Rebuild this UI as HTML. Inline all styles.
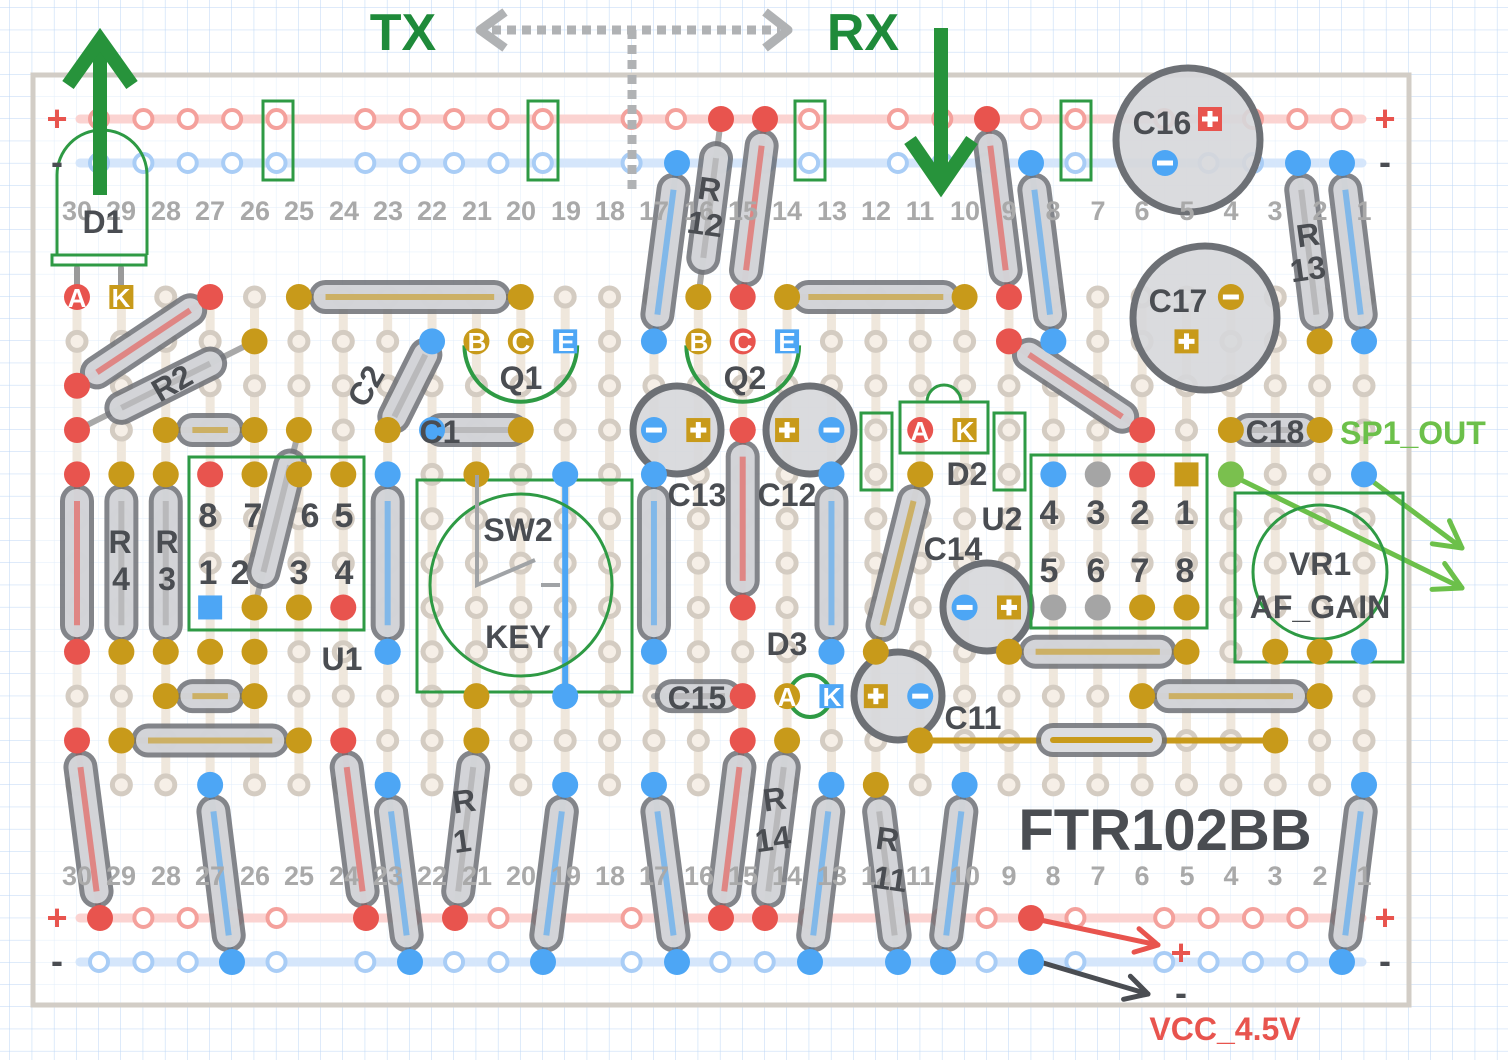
<!DOCTYPE html>
<html><head><meta charset="utf-8"><style>
html,body{margin:0;padding:0;background:#fff;width:1508px;height:1060px;overflow:hidden}
svg{display:block}
text{font-family:"Liberation Sans",sans-serif;font-weight:bold}
.num{fill:#a9a9a9;font-size:27px;text-anchor:middle}
.lab{fill:#4a4d52;font-size:32px;text-anchor:middle}
.pin{fill:#4a4d52;font-size:34px;text-anchor:middle}
.w{fill:#fff;font-size:26px;text-anchor:middle}
</style></head><body>
<svg id="s" width="1508" height="1060" viewBox="0 0 1508 1060" xmlns="http://www.w3.org/2000/svg">
<defs>
<pattern id="g" width="22.2" height="22.2" patternUnits="userSpaceOnUse" x="10" y="8">
<path d="M22.2 0V22.2M0 22.2H22.2" stroke="#bcd6f5" stroke-width="1" fill="none"/>
</pattern>
</defs>
<rect width="1508" height="1060" fill="url(#g)"/>
<rect x="33" y="75" width="1376" height="930" fill="#ffffff" fill-opacity="0.55" stroke="#d2cdc6" stroke-width="5"/>
<g id="base"></g>
<g id="comp"></g>
<g id="txt">
<text class="num" x="77" y="220">30</text><text class="num" x="121" y="220">29</text><text class="num" x="166" y="220">28</text><text class="num" x="210" y="220">27</text><text class="num" x="255" y="220">26</text><text class="num" x="299" y="220">25</text><text class="num" x="344" y="220">24</text><text class="num" x="388" y="220">23</text><text class="num" x="432" y="220">22</text><text class="num" x="477" y="220">21</text><text class="num" x="521" y="220">20</text><text class="num" x="566" y="220">19</text><text class="num" x="610" y="220">18</text><text class="num" x="654" y="220">17</text><text class="num" x="699" y="220">16</text><text class="num" x="743" y="220">15</text><text class="num" x="787" y="220">14</text><text class="num" x="832" y="220">13</text><text class="num" x="876" y="220">12</text><text class="num" x="920" y="220">11</text><text class="num" x="965" y="220">10</text><text class="num" x="1009" y="220">9</text><text class="num" x="1053" y="220">8</text><text class="num" x="1098" y="220">7</text><text class="num" x="1142" y="220">6</text><text class="num" x="1187" y="220">5</text><text class="num" x="1231" y="220">4</text><text class="num" x="1275" y="220">3</text><text class="num" x="1320" y="220">2</text><text class="num" x="1364" y="220">1</text>
<text class="num" x="77" y="885">30</text><text class="num" x="121" y="885">29</text><text class="num" x="166" y="885">28</text><text class="num" x="210" y="885">27</text><text class="num" x="255" y="885">26</text><text class="num" x="299" y="885">25</text><text class="num" x="344" y="885">24</text><text class="num" x="388" y="885">23</text><text class="num" x="432" y="885">22</text><text class="num" x="477" y="885">21</text><text class="num" x="521" y="885">20</text><text class="num" x="566" y="885">19</text><text class="num" x="610" y="885">18</text><text class="num" x="654" y="885">17</text><text class="num" x="699" y="885">16</text><text class="num" x="743" y="885">15</text><text class="num" x="787" y="885">14</text><text class="num" x="832" y="885">13</text><text class="num" x="876" y="885">12</text><text class="num" x="920" y="885">11</text><text class="num" x="965" y="885">10</text><text class="num" x="1009" y="885">9</text><text class="num" x="1053" y="885">8</text><text class="num" x="1098" y="885">7</text><text class="num" x="1142" y="885">6</text><text class="num" x="1187" y="885">5</text><text class="num" x="1231" y="885">4</text><text class="num" x="1275" y="885">3</text><text class="num" x="1320" y="885">2</text><text class="num" x="1364" y="885">1</text>
</g>
<g id="top"></g>
<g id="txt2">
<text x="57" y="131" fill="#e8544e" font-size="36" text-anchor="middle">+</text>
<text x="1385" y="131" fill="#e8544e" font-size="36" text-anchor="middle">+</text>
<text x="57" y="174" fill="#4a4d52" font-size="36" text-anchor="middle">-</text>
<text x="1385" y="174" fill="#4a4d52" font-size="36" text-anchor="middle">-</text>
<text x="57" y="930" fill="#e8544e" font-size="36" text-anchor="middle">+</text>
<text x="1385" y="930" fill="#e8544e" font-size="36" text-anchor="middle">+</text>
<text x="57" y="973" fill="#4a4d52" font-size="36" text-anchor="middle">-</text>
<text x="1385" y="973" fill="#4a4d52" font-size="36" text-anchor="middle">-</text>

<text x="403" y="50" fill="#1f8a3a" font-size="52" text-anchor="middle">TX</text>
<text x="863" y="50" fill="#1f8a3a" font-size="52" text-anchor="middle">RX</text>
<text class="lab" x="103" y="233">D1</text>

<text class="w" x="77" y="307">A</text><text class="w" x="121" y="307">K</text>
<text class="lab" transform="translate(172,383) rotate(-30)" y="11">R2</text>
<text class="lab" transform="translate(366,386) rotate(-60)" y="11">C2</text>
<text class="lab" x="440" y="443">C1</text>
<text class="w" x="477" y="351">B</text><text class="w" x="521" y="351">C</text><text class="w" x="566" y="351">E</text>
<text class="lab" x="521" y="389">Q1</text>
<text class="w" x="699" y="351">B</text><text class="w" x="743" y="351">C</text><text class="w" x="787" y="351">E</text>
<text class="lab" x="745" y="389">Q2</text>
<text class="lab" transform="translate(708,200) rotate(8)" y="0" font-size="28">R</text>
<text class="lab" transform="translate(705,225) rotate(8)" y="10" font-size="28">12</text>
<text class="lab" transform="translate(1308,236) rotate(-8)" y="10" font-size="28">R</text>
<text class="lab" transform="translate(1308,270) rotate(-8)" y="10" font-size="28">13</text>
<text class="lab" x="1162" y="134">C16</text>
<text class="lab" x="1178" y="312">C17</text>
<text class="lab" x="1275" y="443">C18</text>
<text x="1340" y="444" fill="#6cc04a" font-size="32">SP1_OUT</text>
<text class="w" x="920" y="440">A</text><text class="w" x="965" y="440">K</text>
<text class="lab" x="967" y="485">D2</text>
<text class="lab" x="1002" y="530">U2</text>
<text class="lab" x="953" y="560">C14</text>
<text class="lab" x="697" y="506">C13</text>
<text class="lab" x="787" y="506">C12</text>
<text class="lab" x="787" y="655">D3</text>
<text class="lab" x="697" y="709">C15</text>
<text class="w" x="787" y="706">A</text><text class="w" x="832" y="706">K</text>
<text class="lab" x="973" y="729">C11</text>
<text class="pin" x="1049" y="524">4</text><text class="pin" x="1096" y="524" fill="#a9a9a9">3</text><text class="pin" x="1140" y="524">2</text><text class="pin" x="1185" y="524">1</text>
<text class="pin" x="1049" y="582" fill="#a9a9a9">5</text><text class="pin" x="1096" y="582" fill="#a9a9a9">6</text><text class="pin" x="1140" y="582">7</text><text class="pin" x="1185" y="582">8</text>
<text class="pin" x="208" y="527">8</text><text class="pin" x="253" y="527">7</text><text class="pin" x="310" y="527">6</text><text class="pin" x="344" y="527">5</text>
<text class="pin" x="208" y="584">1</text><text class="pin" x="240" y="584">2</text><text class="pin" x="299" y="584">3</text><text class="pin" x="344" y="584">4</text>
<text class="lab" x="342" y="670">U1</text>
<text class="lab" x="120" y="553" font-size="30">R</text><text class="lab" x="121" y="590" font-size="30">4</text>
<text class="lab" x="167" y="553" font-size="30">R</text><text class="lab" x="167" y="590" font-size="30">3</text>
<text class="lab" x="518" y="541">SW2</text>
<text class="lab" x="518" y="648">KEY</text>
<text class="lab" x="1320" y="575">VR1</text>
<text class="lab" x="1320" y="618">AF_GAIN</text>
<text class="lab" transform="translate(466,815) rotate(-8)" y="-3" font-size="30">R</text>
<text class="lab" transform="translate(462,840) rotate(-8)" y="12" font-size="30">1</text>
<text class="lab" transform="translate(776,810) rotate(-8)" y="0" font-size="28">R</text>
<text class="lab" transform="translate(773,840) rotate(-8)" y="10" font-size="28">14</text>
<text class="lab" transform="translate(886,850) rotate(8)" y="0" font-size="28">R</text>
<text class="lab" transform="translate(890,880) rotate(8)" y="10" font-size="28">11</text>
<text x="1165" y="850" fill="#4a4d52" font-size="58" text-anchor="middle">FTR102BB</text>
<text x="1181" y="965" fill="#e8544e" font-size="36" text-anchor="middle">+</text>
<text x="1181" y="1005" fill="#4a4d52" font-size="36" text-anchor="middle">-</text>
<text x="1225" y="1040" fill="#e8544e" font-size="32" text-anchor="middle">VCC_4.5V</text>
</g>
</svg>
<script>
var NS="http://www.w3.org/2000/svg";
var base=document.getElementById('base'),comp=document.getElementById('comp'),top_=document.getElementById('top');
function el(p,t,a){var e=document.createElementNS(NS,t);for(var k in a)e.setAttribute(k,a[k]);p.appendChild(e);return e;}
var R='#e8544e',B='#4da6f5',G='#c89a1a',GR='#2e9a44',DK='#5b5e63',LG='#a8a8a8';
var X=[];for(var i=0;i<30;i++)X.push(77+i*44.38);
var Y=[];for(var j=0;j<12;j++)Y.push(297+j*44.35);
var RX=[];for(var g=0;g<5;g++)for(var k=0;k<5;k++)RX.push(99+g*266.3+k*44.38);
[[119,'#fbd3d1','#f4a19c'],[163,'#d5e6fb','#a9cdf6'],[918,'#fbd3d1','#f4a19c'],[962,'#d5e6fb','#a9cdf6']].forEach(function(r){
 el(base,'line',{x1:80,y1:r[0],x2:1362,y2:r[0],stroke:r[1],'stroke-width':9,'stroke-linecap':'round'});
 RX.forEach(function(x){el(base,'circle',{cx:x,cy:r[0],r:9,fill:'#fff',stroke:r[2],'stroke-width':4});});
});
X.forEach(function(x){el(base,'line',{x1:x,y1:Y[0],x2:x,y2:Y[11],stroke:'#efe7dc','stroke-width':9});});
X.forEach(function(x){Y.forEach(function(y){el(base,'circle',{cx:x,cy:y,r:9,fill:'#f6efe7',stroke:'#d4ccc2','stroke-width':5});});});
function dot(x,y,c,sq){ if(sq) el(top_,'rect',{x:x-12,y:y-12,width:24,height:24,fill:c}); else el(top_,'circle',{cx:x,cy:y,r:13,fill:c});}
function sign(x,y,plus){el(top_,'rect',{x:x-8,y:y-2.5,width:16,height:5,fill:'#fff'});if(plus)el(top_,'rect',{x:x-2.5,y:y-8,width:5,height:16,fill:'#fff'});}
function wire(x1,y1,x2,y2,c,w){el(comp,'line',{x1:x1,y1:y1,x2:x2,y2:y2,stroke:c,'stroke-width':w||6,'stroke-linecap':'round'});}
function res(x1,y1,x2,y2,c,c1,c2,shr){
 if(c1===undefined)c1=c; if(c2===undefined)c2=c; shr=shr||0.12;
 var dx=x2-x1,dy=y2-y1;
 var ax=x1+dx*shr,ay=y1+dy*shr,bx=x2-dx*shr,by=y2-dy*shr;
 wire(x1,y1,x2,y2,c||LG,6);
 el(comp,'line',{x1:ax,y1:ay,x2:bx,y2:by,stroke:'#6d7075','stroke-opacity':0.85,'stroke-width':34,'stroke-linecap':'round'});
 el(comp,'line',{x1:ax,y1:ay,x2:bx,y2:by,stroke:'#dcdde0','stroke-opacity':0.9,'stroke-width':24,'stroke-linecap':'round'});
 el(comp,'line',{x1:ax,y1:ay,x2:bx,y2:by,stroke:c||LG,'stroke-opacity':0.6,'stroke-width':6});
 if(c1)dot(x1,y1,c1); if(c2)dot(x2,y2,c2);
}
function cap(x,y,r){el(comp,'circle',{cx:x,cy:y,r:r,fill:'#d6d7da','fill-opacity':0.9,stroke:'#6d7075','stroke-width':7});}
function rect(x,y,w,h,c,sw){el(top_,'rect',{x:x,y:y,width:w,height:h,fill:'none',stroke:c||GR,'stroke-width':sw||3});}
// Left region
res(X[0],Y[2],X[3],Y[0],R,R,R,0.15);
res(X[0],Y[3],X[4],Y[1],LG,R,G,0.25);
res(X[5],Y[0],X[10],Y[0],G,G,G,0.12);
res(X[7],Y[3],X[8],Y[1],LG,G,B,0.15);
res(X[8],Y[3],X[10],Y[3],LG,B,G,0.1);
res(X[2],Y[3],X[4],Y[3],G,G,G,0.3);
dot(X[5],Y[3],G);
dot(X[0],Y[0],R);dot(X[1],Y[0],G,true);
res(X[4],Y[7],X[5],Y[3],LG,false,false,0.2);
res(X[0],Y[4],X[0],Y[8],R,R,R,0.15);
res(X[1],Y[4],X[1],Y[8],LG,G,G,0.15);
res(X[2],Y[4],X[2],Y[8],LG,G,G,0.15);
res(X[7],Y[4],X[7],Y[8],B,B,B,0.15);
res(X[2],Y[9],X[4],Y[9],G,G,G,0.3);
res(X[1],Y[10],X[5],Y[10],G,G,G,0.15);
// U1
dot(X[3],Y[4],R);dot(X[4],Y[4],G);dot(X[5],Y[4],G);dot(X[6],Y[4],G);
dot(X[3],Y[7],B,true);dot(X[4],Y[7],G);dot(X[5],Y[7],G);dot(X[6],Y[7],R);
dot(X[3],Y[8],G);dot(X[4],Y[8],G);dot(X[7],Y[8],B);
rect(189,457,175,173);
// Q1 Q2
[[X[9],X[10],X[11]],[X[14],X[15],X[16]]].forEach(function(q,i){
 el(top_,'path',{d:'M'+(q[0]-12)+' '+(Y[1]+4)+' A56 56 0 0 0 '+(q[2]+12)+' '+(Y[1]+4),fill:'none',stroke:GR,'stroke-width':4});
 dot(q[0],Y[1],G);dot(q[1],Y[1],i?R:G);dot(q[2],Y[1],B,true);
});
// SW2
rect(417,480,215,212);
el(top_,'circle',{cx:521,cy:585,r:91,fill:'none',stroke:GR,'stroke-width':3});
wire(X[11],Y[4],X[11],Y[9],B,6);dot(X[11],Y[4],B);dot(X[11],Y[9],B);
dot(X[9],Y[4],G);dot(X[9],Y[9],G);
el(top_,'path',{d:'M477 475V585L535 560M541 585H560',fill:'none',stroke:'#a0a3a6','stroke-width':4});
// center
res(X[13],Y[1],677,163,B,B,B,0.15);
res(X[14],Y[0],721,119,LG,G,R,0.22);
res(X[15],Y[0],765,119,R,R,R,0.15);
res(X[16],Y[0],X[20],Y[0],G,G,G,0.12);
res(X[13],Y[4],X[13],Y[8],B,B,B,0.15);
res(X[15],Y[3],X[15],Y[7],R,R,R,0.15);
res(X[17],Y[4],X[17],Y[8],B,B,B,0.15);
cap(677,430,44);cap(810,430,44);
dot(X[13],Y[3],B);sign(X[13],Y[3]);dot(X[14],Y[3],G,true);sign(X[14],Y[3],1);
dot(X[16],Y[3],G,true);sign(X[16],Y[3],1);dot(X[17],Y[3],B);sign(X[17],Y[3]);dot(X[15],Y[3],R);
res(X[13],Y[9],X[15],Y[9],LG,false,R,0.2);
el(top_,'circle',{cx:810,cy:696,r:21,fill:'none',stroke:GR,'stroke-width':4});
dot(X[16],Y[9],G);dot(X[17],Y[9],B,true);
cap(898,696,44);dot(X[18],Y[9],G,true);sign(X[18],Y[9],1);dot(X[19],Y[9],B);sign(X[19],Y[9]);
// D2
rect(900,402,88,51);rect(861,413,31,77);rect(994,413,31,77);
el(top_,'path',{d:'M927 402A17 17 0 0 1 961 402',fill:'none',stroke:GR,'stroke-width':3});
dot(X[19],Y[3],R);dot(X[20],Y[3],G,true);
res(X[19],Y[4],X[18],Y[8],G,G,G,0.15);
cap(987,607,44);dot(X[20],Y[7],B);sign(X[20],Y[7]);dot(X[21],Y[7],G,true);sign(X[21],Y[7],1);
// right top
res(X[21],Y[0],987,119,R,R,R,0.15);
res(X[22],Y[1],1031,163,B,B,B,0.15);
res(X[21],Y[1],X[24],Y[3],R,R,R,0.15);
cap(1188,140,72);dot(1210,119,R,true);sign(1210,119,1);dot(1165,163,B);sign(1165,163);
cap(1205,318,72);dot(X[26],Y[0],G);sign(X[26],Y[0]);dot(X[25],Y[1],G,true);sign(X[25],Y[1],1);
res(X[28],Y[1],1298,163,LG,G,B,0.15);
res(X[29],Y[1],1342,163,B,B,B,0.15);
res(X[26],Y[3],X[28],Y[3],LG,G,G,0.2);
// U2
rect(1031,455,176,173);
dot(X[22],Y[4],B);dot(X[23],Y[4],'#a5a5a5');dot(X[24],Y[4],R);dot(X[25],Y[4],G,true);
dot(X[22],Y[7],'#a5a5a5');dot(X[23],Y[7],'#a5a5a5');dot(X[24],Y[7],G);dot(X[25],Y[7],G);
res(X[21],Y[8],X[25],Y[8],G,G,G,0.15);
res(X[24],Y[9],X[28],Y[9],G,G,G,0.15);
wire(X[19],Y[10],X[27],Y[10],G,6);dot(X[19],Y[10],G);dot(X[27],Y[10],G);
el(comp,'line',{x1:1053,y1:740,x2:1150,y2:740,stroke:'#6d7075','stroke-width':34,'stroke-linecap':'round','stroke-opacity':0.85});
el(comp,'line',{x1:1053,y1:740,x2:1150,y2:740,stroke:'#dcdde0','stroke-width':24,'stroke-linecap':'round'});
wire(1053,740,1150,740,G,6);
// VR1
rect(1235,493,168,169);
el(top_,'circle',{cx:1320,cy:572,r:67,fill:'none',stroke:GR,'stroke-width':3});
dot(X[27],Y[8],G);dot(X[28],Y[8],G);dot(X[29],Y[8],B);dot(X[29],Y[4],B);dot(X[26],Y[4],'#7ac04e');
function arrow(x1,y1,x2,y2,c,w,h){
 wire(x1,y1,x2,y2,c,w);var a=Math.atan2(y2-y1,x2-x1);
 var p=[[x2-h*Math.cos(a-0.5),y2-h*Math.sin(a-0.5)],[x2,y2],[x2-h*Math.cos(a+0.5),y2-h*Math.sin(a+0.5)]];
 el(comp,'polyline',{points:p.join(' '),fill:'none',stroke:c,'stroke-width':w,'stroke-linecap':'round','stroke-linejoin':'round'});
}
arrow(1231,475,1462,588,'#6cc04a',5,30);
arrow(1364,475,1462,548,'#6cc04a',5,30);
// bottom resistors
res(X[0],Y[10],100,918,R,R,R,0.15);
res(X[3],Y[11],232,962,B,B,B,0.15);
res(X[6],Y[10],366,918,R,R,R,0.15);
res(X[7],Y[11],410,962,B,B,B,0.15);
res(X[9],Y[10],455,918,LG,G,R,0.15);
res(X[11],Y[11],543,962,B,B,B,0.15);
res(X[13],Y[11],677,962,B,B,B,0.15);
res(X[15],Y[10],721,918,R,R,R,0.15);
res(X[16],Y[10],765,918,LG,G,R,0.15);
res(X[17],Y[11],810,962,B,B,B,0.15);
res(X[18],Y[11],898,962,LG,G,B,0.15);
res(X[20],Y[11],943,962,B,B,B,0.15);
res(X[29],Y[11],1342,962,B,B,B,0.15);
dot(1031,918,R);dot(1031,962,B);
arrow(1031,918,1158,945,'#e8544e',5,25);
arrow(1040,962,1148,994,'#4a4d52',5,25);
// D1
el(top_,'path',{d:'M57 255V175A45 45 0 0 1 147 175V255',fill:'none',stroke:GR,'stroke-width':3});
rect(52,255,94,10,GR,3);
wire(77,268,77,297,'#9a9a9a',6);wire(121,268,121,297,'#9a9a9a',6);
function thick(x1,y1,x2,y2,c){el(top_,'line',{x1:x1,y1:y1,x2:x2,y2:y2,stroke:c,'stroke-width':14});}
thick(100,195,100,42,'#27933b');
el(top_,'polyline',{points:'68,85 100,40 132,85',fill:'none',stroke:'#27933b','stroke-width':14});
thick(941,28,941,180,'#27933b');
el(top_,'polyline',{points:'910,140 941,185 972,140',fill:'none',stroke:'#27933b','stroke-width':14});
el(top_,'line',{x1:492,y1:30,x2:780,y2:30,stroke:'#b0b2b4','stroke-width':9,'stroke-dasharray':'9 6'});
el(top_,'line',{x1:632,y1:30,x2:632,y2:195,stroke:'#b0b2b4','stroke-width':9,'stroke-dasharray':'9 6'});
el(top_,'polyline',{points:'505,12 480,30 505,48',fill:'none',stroke:'#b0b2b4','stroke-width':9,'stroke-linejoin':'round'});
el(top_,'polyline',{points:'765,12 788,30 765,48',fill:'none',stroke:'#b0b2b4','stroke-width':9,'stroke-linejoin':'round'});
[[263,101],[528,101],[795,101],[1061,101]].forEach(function(p){rect(p[0],p[1],30,79);});
</script>
</body></html>
